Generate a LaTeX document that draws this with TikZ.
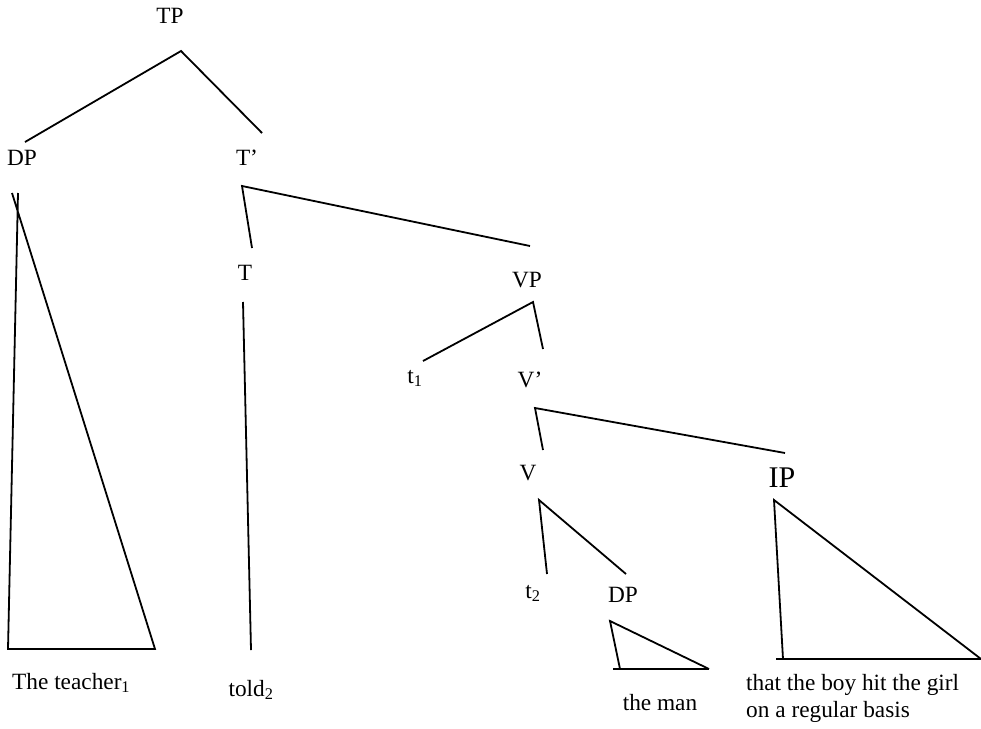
\documentclass[tikz,border=0pt]{standalone}
\usepackage{fontspec}
\setmainfont{Liberation Serif}
\begin{document}
\begin{tikzpicture}[x=1pt,y=-1pt,
  cat/.style={anchor=base,inner sep=0pt,font=\fontsize{23.3}{26}\selectfont},
  bigcat/.style={anchor=base,inner sep=0pt,font=\fontsize{30}{34}\selectfont},
  words/.style={anchor=base west,inner sep=0pt,align=left,font=\fontsize{23.3}{26.5}\selectfont},
  branch/.style={line width=1.8pt}]
  \useasboundingbox (0,0) rectangle (981,728);
  % category labels
  \node[cat]    (tp)     at (170,23)  {TP};
  \node[cat]    (dp)     at (22,165)  {DP};
  \node[cat]    (tbar)   at (247,165) {T’};
  \node[cat]    (t)      at (245,280) {T};
  \node[cat]    (vp)     at (527,287) {VP};
  \node[cat]    (trace1) at (415,383) {t\textsubscript{1}};
  \node[cat]    (vbar)   at (530,387) {V’};
  \node[cat]    (v)      at (528,480) {V};
  \node[bigcat] (ip)     at (782,487) {IP};
  \node[cat]    (trace2) at (533,598) {t\textsubscript{2}};
  \node[cat]    (dpobj)  at (623,602) {DP};
  % terminal strings
  \node[words]  (teacher) at (12,689)  {The teacher\textsubscript{1}};
  \node[cat]    (told)    at (251,696) {told\textsubscript{2}};
  \node[cat]    (man)     at (660,710) {the man};
  \node[words]  (clause)  at (746,717) {that the boy hit the girl\\on a regular basis};
  % branch ends
  \coordinate (tp-top)    at (181,51);
  \coordinate (tp-left)   at (25,142);
  \coordinate (tp-right)  at (262,133);
  \coordinate (tbar-top)  at (242,186);
  \coordinate (tbar-left) at (252,248);
  \coordinate (tbar-right) at (530,246);
  \coordinate (t-top)     at (243,302);
  \coordinate (t-bot)     at (251,650);
  \coordinate (vp-top)    at (533,302);
  \coordinate (vp-left)   at (423,361);
  \coordinate (vp-right)  at (543,349);
  \coordinate (vbar-top)  at (535,408);
  \coordinate (vbar-left) at (543,450);
  \coordinate (vbar-right) at (785,453);
  \coordinate (v-top)     at (539,500);
  \coordinate (v-left)    at (547,574);
  \coordinate (v-right)   at (626,574);
  % triangles
  \coordinate (dp-vtop)   at (18,193);
  \coordinate (dp-stop)   at (12,193);
  \coordinate (dp-bl)     at (8,649);
  \coordinate (dp-br)     at (155,649);
  \coordinate (obj-top)   at (610,621);
  \coordinate (obj-foot)  at (620,669);
  \coordinate (obj-bl)    at (613,669);
  \coordinate (obj-br)    at (709,669);
  \coordinate (ip-top)    at (774,500);
  \coordinate (ip-foot)   at (783,659);
  \coordinate (ip-bl)     at (776,659);
  \coordinate (ip-br)     at (981,659);
  % branches
  \draw[branch] (tp-left) -- (tp-top) -- (tp-right);
  \draw[branch] (tbar-left) -- (tbar-top) -- (tbar-right);
  \draw[branch] (t-top) -- (t-bot);
  \draw[branch] (vp-left) -- (vp-top) -- (vp-right);
  \draw[branch] (vbar-left) -- (vbar-top) -- (vbar-right);
  \draw[branch] (v-left) -- (v-top) -- (v-right);
  \draw[branch] (dp-vtop) -- (dp-bl) -- (dp-br) -- (dp-stop);
  \draw[branch] (obj-foot) -- (obj-top) -- (obj-br);
  \draw[branch] (obj-bl) -- (obj-br);
  \draw[branch] (ip-foot) -- (ip-top) -- (ip-br);
  \draw[branch] (ip-bl) -- (ip-br);
\end{tikzpicture}
\end{document}
